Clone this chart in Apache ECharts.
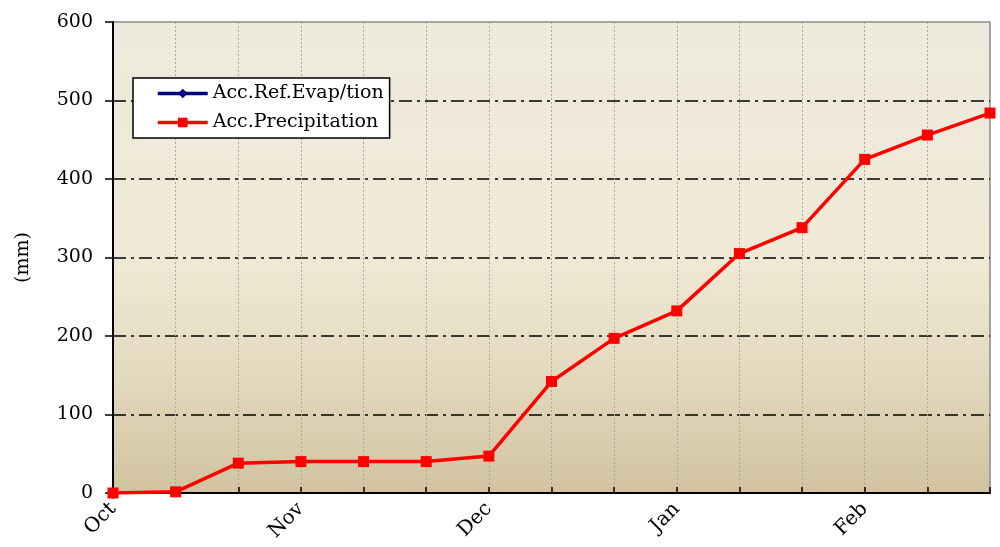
<!DOCTYPE html>
<html>
<head>
<meta charset="utf-8">
<script src="https://cdn.jsdelivr.net/npm/echarts@6/dist/echarts.min.js"></script>
<style>html,body{margin:0;padding:0;background:#fff}#c{width:1000px;height:547px}</style>
</head>
<body>
<div id="c"></div>
<script>
const categories = ['Oct','','','Nov','','','Dec','','','Jan','','','Feb','',''];
const accEvap = [0, null, null, null, null, null, null, null, null, null, null, null, null, null, null];
const accPrecip = [0, 1.5, 38, 40, 40, 40, 47, 142, 197, 232, 305, 338, 425, 456, 484];
const yTicks = {min: 0, max: 600, interval: 100};

const chart = echarts.init(document.getElementById('c'), null, {renderer: 'canvas'});
const FONT = 'DejaVu Serif';
chart.setOption({
  animation: false,
  backgroundColor: '#ffffff',
  grid: {
    left: 113, right: 10, top: 22, bottom: 54,
    show: true,
    borderColor: '#8a8a8a', borderWidth: 1.5,
    backgroundColor: new echarts.graphic.LinearGradient(0, 0, 0, 1, [
      {offset: 0, color: '#edeadd'},
      {offset: 0.5, color: '#f0e9d5'},
      {offset: 0.75, color: '#e3d9be'},
      {offset: 1, color: '#d1c39f'}
    ])
  },
  legend: {
    left: 133, top: 78,
    orient: 'vertical',
    backgroundColor: '#ffffff',
    borderColor: '#000', borderWidth: 1.5,
    padding: [6, 6, 6, 23],
    itemWidth: 50, itemHeight: 12, itemGap: 10,
    lineStyle: {width: 3.5},
    textStyle: {fontFamily: FONT, fontSize: 19, color: '#000'},
    data: ['Acc.Ref.Evap/tion', 'Acc.Precipitation']
  },
  xAxis: {
    type: 'category',
    data: categories,
    boundaryGap: false,
    axisLine: {lineStyle: {color: '#000', width: 2}},
    axisTick: {show: true, inside: true, length: 6, interval: 0, lineStyle: {color: '#000', width: 1.5}},
    axisLabel: {interval: 2, rotate: 45, margin: 13, fontFamily: FONT, fontSize: 20, color: '#000'},
    splitLine: {show: true, interval: 0, lineStyle: {color: '#a8a8a0', width: 1, type: [2, 2]}}
  },
  yAxis: {
    type: 'value',
    min: yTicks.min, max: yTicks.max, interval: yTicks.interval,
    name: '(mm)', nameLocation: 'middle', nameGap: 80, nameRotate: 90,
    nameTextStyle: {fontFamily: FONT, fontSize: 19, color: '#000'},
    axisLine: {show: true, lineStyle: {color: '#000', width: 2}},
    axisTick: {show: true, length: 8, lineStyle: {color: '#000', width: 1.5}},
    axisLabel: {margin: 20, fontFamily: FONT, fontSize: 19, color: '#000'},
    splitLine: {show: true, lineStyle: {color: ['#000', '#000', '#000', '#000', '#000', '#000', 'rgba(0,0,0,0)'], width: 1.5, type: [13, 5, 3, 5]}}
  },
  series: [
    {
      name: 'Acc.Ref.Evap/tion', type: 'line', data: accEvap,
      symbol: 'diamond', symbolSize: 12, showSymbol: true,
      lineStyle: {color: '#000080', width: 3.5}, itemStyle: {color: '#000080'}, z: 2
    },
    {
      name: 'Acc.Precipitation', type: 'line', data: accPrecip,
      symbol: 'rect', symbolSize: 11,
      lineStyle: {color: '#ff0000', width: 3.5}, itemStyle: {color: '#ff0000'}, z: 3
    }
  ]
});
</script>
</body>
</html>
